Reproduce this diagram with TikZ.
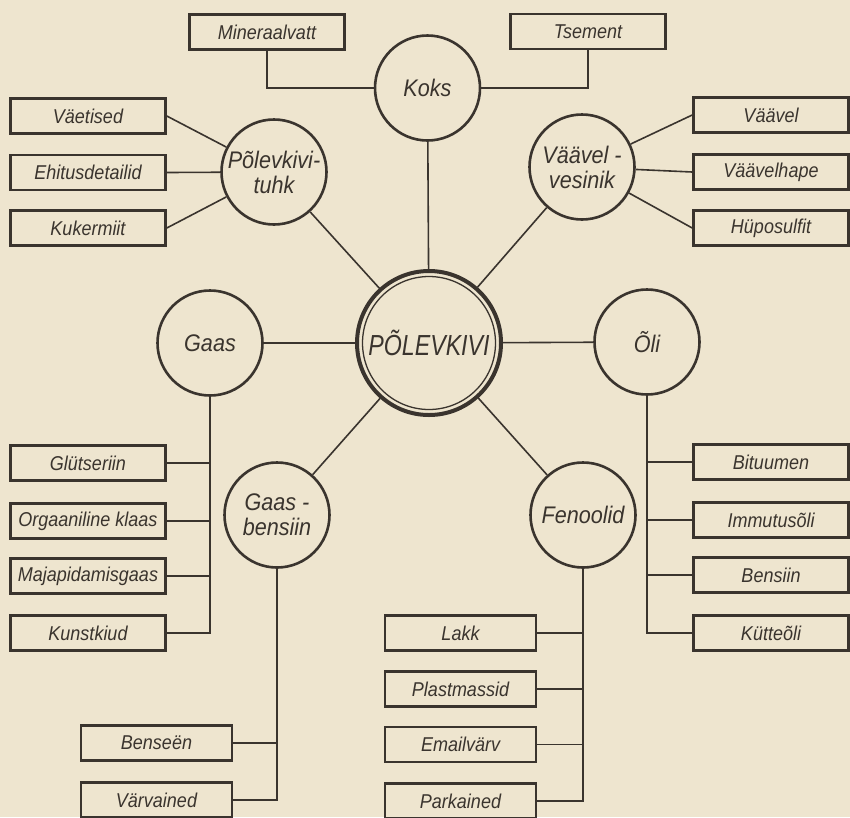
\documentclass[tikz,border=0pt]{standalone}
\usepackage{fontspec}
\setmainfont{Liberation Sans}[FakeStretch=0.9]
\newfontfamily\bigfont{Liberation Sans}[FakeStretch=0.8]
\definecolor{paper}{RGB}{238,229,207}
\definecolor{ink}{RGB}{58,52,46}
\begin{document}
\begin{tikzpicture}[x=1pt,y=-1pt,
  bx/.style={draw=ink,line width=2.6pt,minimum width=155pt,minimum height=35pt,inner sep=0pt,
    font=\fontsize{20}{22}\selectfont\itshape,text=ink},
  bxs/.style={bx,minimum width=151pt},
  ring/.style={circle,draw=ink,line width=2.6pt,minimum size=105pt,inner sep=0pt,align=center,
    font=\fontsize{24}{25}\selectfont\itshape,text=ink},
  conn/.style={draw=ink,line width=1.6pt}]
\fill[paper] (0,0) rectangle (850,817);
\useasboundingbox (0,0) rectangle (850,817);
% central node
\node[circle,draw=ink,line width=4pt,minimum size=144pt,inner sep=0pt] (main) at (429,343) {};
\node[circle,draw=ink,line width=1.3pt,minimum size=133pt,inner sep=0pt,text=ink,
  font=\bigfont\fontsize{29}{31}\selectfont\itshape] (maintext) at (429,343) {PÕLEVKIVI};
% circles
\node[ring] (koks) at (427.5,88) {Koks};
\node[ring] (tuhk) at (274,172) {Põlevkivi-\\tuhk};
\node[ring] (vesi) at (582,167) {Väävel -\\vesinik};
\node[ring] (gaas) at (210,343) {Gaas};
\node[ring] (oli) at (647,342) {Õli};
\node[ring] (gb) at (277,515) {Gaas -\\bensiin};
\node[ring] (fen) at (583,515) {Fenoolid};
% boxes
\node[bx] (mv) at (267,32) {Mineraalvatt};
\node[bx] (ts) at (588,31.5) {Tsement};
\node[bx] (vae) at (88,116) {Väetised};
\node[bx] (ehi) at (88,172.5) {Ehitusdetailid};
\node[bx] (kuk) at (88,228) {Kukermiit};
\node[bx] (vvl) at (771,115) {Väävel};
\node[bx] (vvh) at (771,172) {Väävelhape};
\node[bx] (hup) at (771,228) {Hüposulfit};
\node[bx] (glu) at (88,463) {Glütseriin};
\node[bx] (org) at (88,521) {Orgaaniline klaas};
\node[bx] (maj) at (88,576) {Majapidamisgaas};
\node[bx] (kun) at (88,633) {Kunstkiud};
\node[bx] (bit) at (771,462) {Bituumen};
\node[bx] (imm) at (771,520) {Immutusõli};
\node[bx] (bns) at (771,575) {Bensiin};
\node[bx] (kut) at (771,633) {Kütteõli};
\node[bxs] (ben) at (156.5,743) {Benseën};
\node[bxs] (var) at (156.5,800) {Värvained};
\node[bxs] (lak) at (460.5,633) {Lakk};
\node[bxs] (pla) at (460.5,689) {Plastmassid};
\node[bxs] (ema) at (460.5,744.5) {Emailvärv};
\node[bxs] (par) at (460.5,801) {Parkained};
% connectors to main
\foreach \n in {koks,tuhk,vesi,gaas,oli,gb,fen}
  \draw[conn] (\n) -- (main);
% Koks
\draw[conn] (mv) |- (koks);
\draw[conn] (ts) |- (koks);
% Tuhk
\foreach \b in {vae,ehi,kuk} \draw[conn] (\b.east) -- (tuhk);
% Vesinik
\foreach \b in {vvl,vvh,hup} \draw[conn] (vesi) -- (\b.west);
% Gaas tree
\draw[conn] (gaas) |- (kun.east);
\foreach \b in {glu,org,maj} \draw[conn] (\b.east) -- (\b.east -| gaas.south);
% Gaasbensiin tree
\draw[conn] (gb) |- (var.east);
\draw[conn] (ben.east) -- (ben.east -| gb.south);
% Oli tree
\draw[conn] (oli) |- (kut.west);
\foreach \b in {bit,imm,bns} \draw[conn] (\b.west) -- (\b.west -| oli.south);
% Fenoolid tree
\draw[conn] (fen) |- (par.east);
\foreach \b in {lak,pla,ema} \draw[conn] (\b.east) -- (\b.east -| fen.south);
\end{tikzpicture}
\end{document}
